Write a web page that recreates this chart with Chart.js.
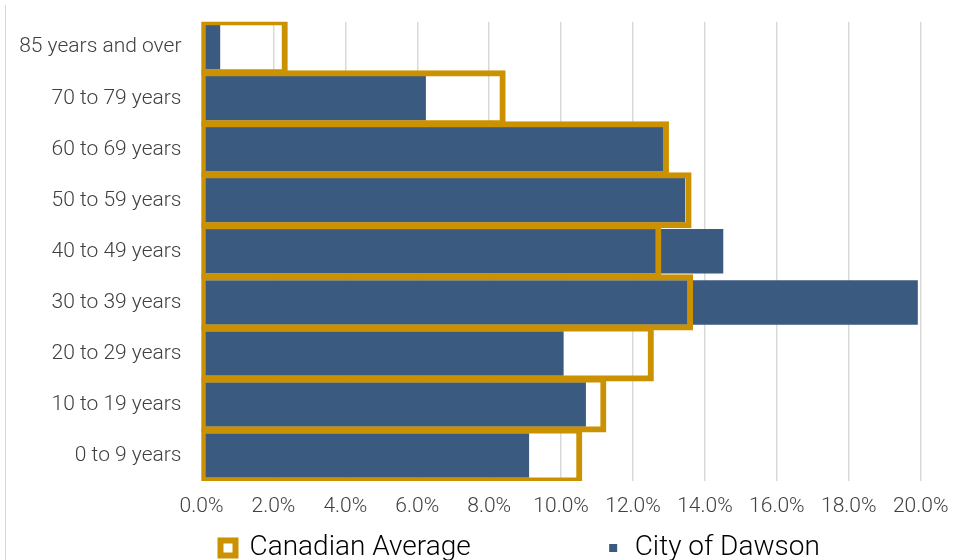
<!DOCTYPE html>
<html>
<head>
<meta charset="utf-8">
<script src="https://cdn.jsdelivr.net/npm/chart.js@4.4.1/dist/chart.umd.min.js"></script>
<style>
  html, body { margin: 0; padding: 0; background: #ffffff; }
  #wrap { position: relative; width: 966px; height: 560px; }
  #frame { position: absolute; left: 5px; top: 5px; width: 1px; height: 555px; background: #d6d6d6; }
</style>
</head>
<body>
<div id="wrap">
  <canvas id="ageChart" width="966" height="560"></canvas>
  <div id="frame"></div>
</div>
<script>
// age groups, top to bottom as in the chart
const ageGroups = [
  '85 years and over',
  '70 to 79 years',
  '60 to 69 years',
  '50 to 59 years',
  '40 to 49 years',
  '30 to 39 years',
  '20 to 29 years',
  '10 to 19 years',
  '0 to 9 years'
];
// share of population, %
const canadianAverage = [2.33, 8.39, 12.93, 13.56, 12.72, 13.60, 12.51, 11.19, 10.52];
const cityOfDawson = [0.52, 6.24, 12.85, 13.45, 14.51, 19.92, 10.07, 10.69, 9.11];
const xTickValues = [0, 2, 4, 6, 8, 10, 12, 14, 16, 18, 20];

const gold = '#CC9100';
const blue = '#3A5A80';

Chart.defaults.font.family = 'Roboto';
Chart.defaults.font.weight = 300;

document.addEventListener('DOMContentLoaded', () => {
  const ctx = document.getElementById('ageChart');

  const data = {
    labels: ageGroups,
    datasets: [
      {
        label: 'Canadian Average',
        data: canadianAverage,
        backgroundColor: 'rgba(0,0,0,0)',
        borderColor: gold,
        borderWidth: 1,
        inflateAmount: 2.5,
        borderSkipped: false,
        barPercentage: 1,
        categoryPercentage: 1,
        grouped: false,
        clip: 0
      },
      {
        label: 'City of Dawson',
        data: cityOfDawson,
        backgroundColor: blue,
        borderWidth: 0,
        inflateAmount: 0,
        barPercentage: 0.872,
        categoryPercentage: 1,
        grouped: false
      }
    ]
  };

  const config = {
    type: 'bar',
    data: data,
    options: {
      indexAxis: 'y',
      responsive: false,
      animation: false,
      devicePixelRatio: 1,
      layout: {
        padding: { top: 21.7, bottom: -12, left: 0, right: 45.3 }
      },
      plugins: {
        tooltip: { enabled: false },
        legend: {
          position: 'bottom',
          fullSize: false,
          align: 'start',
          labels: {
            color: '#1f1f1f',
            font: { size: 28, weight: 300 },
            boxWidth: 15,
            boxHeight: 15,
            padding: 19,
            generateLabels: chart => chart.data.datasets.map((ds, i) => ({
              // trailing spaces only widen the gap between the two items
              text: i === 0 ? ds.label + ' '.repeat(17) : ds.label,
              fillStyle: i === 0 ? '#ffffff' : blue,
              strokeStyle: i === 0 ? gold : '#ffffff',
              lineWidth: i === 0 ? 6 : 7,
              hidden: false,
              datasetIndex: i
            }))
          }
        }
      },
      scales: {
        x: {
          min: 0,
          max: 20,
          afterBuildTicks: scale => {
            scale.ticks = xTickValues.map(v => ({ value: v }));
          },
          afterFit: scale => { scale.height = 34; },
          grid: { color: '#d9d9d9', lineWidth: 1.5, drawTicks: false },
          border: { display: false },
          ticks: {
            color: '#404040',
            font: { size: 21, weight: 300 },
            padding: 13,
            maxRotation: 0,
            callback: v => v.toFixed(1) + '%'
          }
        },
        y: {
          afterFit: scale => {
            scale.width = 201.5;
            scale.paddingTop = 0;
            scale.paddingBottom = 0;
          },
          grid: { display: false, drawTicks: false },
          border: { display: false },
          ticks: {
            color: '#404040',
            font: { size: 21, weight: 300 },
            padding: 20
          }
        }
      }
    }
  };

  new Chart(ctx, config);
});
</script>
</body>
</html>
